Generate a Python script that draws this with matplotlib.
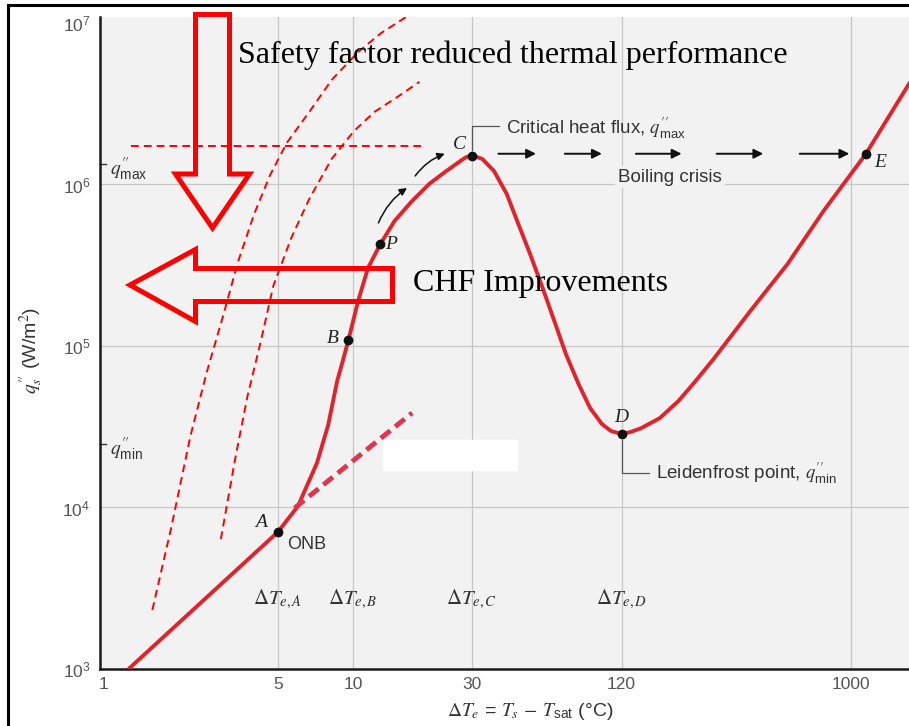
import matplotlib
matplotlib.use("Agg")
import matplotlib.pyplot as plt
from matplotlib.patches import Polygon, Rectangle
from matplotlib.lines import Line2D

plt.rcParams['font.family'] = 'Liberation Sans'
plt.rcParams['mathtext.fontset'] = 'stix'

# boiling curve (excess temperature in C, heat flux in W/m2)
dT = [1.257, 5.0, 6.02, 7.18, 7.96, 8.65, 9.11, 9.6, 10.5, 11.5, 12.9, 14.7, 17.3,
      20.3, 23.7, 27.8, 28.6, 30.0, 31.0, 33.1, 36.9, 41.5, 46.2, 51.5, 57.8, 64.4,
      71.7, 80.6, 89.7, 100, 108.6, 120, 130, 144, 171, 203, 238, 283, 395, 557,
      777, 1150, 2000]
q = [1.0e3, 7.05e3, 1.02e4, 1.89e4, 3.24e4, 6.07e4, 8.07e4, 1.09e5, 1.90e5, 3.04e5,
     4.28e5, 5.94e5, 7.91e5, 1.01e6, 1.21e6, 1.44e6, 1.48e6, 1.50e6, 1.49e6, 1.44e6,
     1.21e6, 8.73e5, 5.69e5, 3.71e5, 2.29e5, 1.43e5, 8.92e4, 5.82e4, 4.13e4, 3.29e4,
     2.98e4, 2.85e4, 2.93e4, 3.10e4, 3.58e4, 4.56e4, 6.07e4, 8.43e4, 1.65e5, 3.22e5,
     6.86e5, 1.55e6, 6.2e6]

# marked points
pt_names = ['A', 'B', 'P', 'C', 'D', 'E']
pt_dT = [5.0, 9.6, 12.9, 30.0, 120, 1150]
pt_q = [7.05e3, 1.09e5, 4.28e5, 1.50e6, 2.85e4, 1.55e6]

# natural convection extension (thick dashed)
nc_dT = [5.84, 17.3]
nc_q = [9.93e3, 3.85e4]

# two shifted curves (thin dashed)
sh1_dT = [1.566, 1.867, 2.227, 2.585, 3.003, 3.456, 4.014, 4.66, 5.43, 6.68, 8.22, 10.5, 13.0, 17.3]
sh1_q = [2.32e3, 7.57e3, 2.77e4, 6.81e4, 1.51e5, 3.31e5, 6.56e5, 1.15e6, 1.81e6, 2.81e6,
         4.44e6, 6.61e6, 8.67e6, 1.15e7]
sh2_dT = [2.951, 3.366, 3.774, 4.27, 4.79, 5.66, 6.68, 8.22, 10.1, 12.2, 15.3, 18.5]
sh2_q = [6.38e3, 1.99e4, 4.89e4, 1.07e5, 2.35e5, 4.67e5, 8.13e5, 1.44e6, 2.14e6, 2.81e6,
         3.53e6, 4.32e6]

# reduced q''max line
qline_dT = [1.28, 18.7]
qline_q = 1.73e6

q_max = 1.34e6
q_min = 2.47e4

# boiling crisis arrows
crisis_start = [38.4, 71.0, 137, 289, 623]
crisis_end = [54.4, 100, 209, 445, 986]
crisis_q = 1.55e6

xticks = [1, 5, 10, 30, 120, 1000]
xtick_labels = ['1', '5', '10', '30', '120', '1000']
yticks = [1e3, 1e4, 1e5, 1e6, 1e7]

red = '#e2232b'
W, H = 909, 726
QMAX = r"$q^{\prime\prime}_{\mathregular{max}}$"
QMIN = r"$q^{\prime\prime}_{\mathregular{min}}$"


def fpx(x, y):
    return (x / W, 1 - y / H)


fig = plt.figure(figsize=(W / 100, H / 100), dpi=100)
ax = fig.add_axes([100 / W, 57 / H, 809 / W, 652 / H])
ax.set_facecolor('#f2f2f2')
ax.set_xscale('log')
ax.set_yscale('log')
ax.set_xlim(0.965, 1712)
ax.set_ylim(1e3, 10 ** 7.037)

ax.set_xticks(xticks)
ax.set_xticklabels(xtick_labels)
ax.set_yticks(yticks)
ax.minorticks_off()
ax.tick_params(axis='both', length=0, labelcolor='#555555', labelsize=12.5)
ax.tick_params(axis='x', pad=6)
ax.tick_params(axis='y', pad=7)
for s in ['top', 'right']:
    ax.spines[s].set_visible(False)
for s in ['left', 'bottom']:
    ax.spines[s].set_linewidth(1.8)
    ax.spines[s].set_color('#1a1a1a')

for v in xticks[1:]:
    ax.axvline(v, color='#c6c6c6', lw=0.9, zorder=0.5)
for v in yticks[1:-1]:
    ax.axhline(v, color='#c6c6c6', lw=0.9, zorder=0.5)

# erased patch in the scan
ax.add_patch(Rectangle((0.350, 0.305), 0.165, 0.046, transform=ax.transAxes,
                       color='white', zorder=0.6))

ax.plot(dT, q, color=red, lw=2.8, zorder=3, solid_capstyle='butt')
ax.plot(nc_dT, nc_q, color='#e0344f', lw=3.5, dashes=(2.5, 1.3), zorder=3)
ax.plot(sh1_dT, sh1_q, color='#ff0000', lw=1.4, dashes=(4, 2.6), zorder=3)
ax.plot(sh2_dT, sh2_q, color='#ff0000', lw=1.4, dashes=(4, 2.6), zorder=3)
ax.plot(qline_dT, [qline_q, qline_q], color='#ff0000', lw=1.4, dashes=(4, 2.6), zorder=3)
ax.plot(pt_dT, pt_q, 'o', color='#111111', ms=6, zorder=4)

# point letters
offsets = {'A': (-12, 7), 'B': (-11, 1), 'P': (8, 0), 'C': (-9, 8), 'D': (0, 12), 'E': (10, -6)}
for n, x, y in zip(pt_names, pt_dT, pt_q):
    ax.annotate(n, (x, y), xytext=offsets[n], textcoords='offset points', ha='center',
                va='center', family='Liberation Serif', style='italic', size=14,
                color='#222222', zorder=5)
ax.annotate('ONB', (pt_dT[0], pt_q[0]), xytext=(7, -9), textcoords='offset points',
            ha='left', va='center', size=13, color='#333333')

# delta T labels
dt_y = 2.7e3
for x, s in zip([5.0, 10.0, 30.0, 120.0], ['A', 'B', 'C', 'D']):
    ax.text(x, dt_y, r'$\Delta T_{e,%s}$' % s, ha='center', va='center', size=15,
            color='#333333')

# side labels for q''max and q''min
ytr = ax.get_yaxis_transform()
for v, lab in [(q_max, QMAX), (q_min, QMIN)]:
    ax.plot([0, 0.008], [v, v], color='#333333', lw=1, transform=ytr, clip_on=False)
    ax.text(0.012, v * 0.93, lab, transform=ytr, ha='left', va='center', size=14,
            color='#333333')

ax.annotate("Critical heat flux, " + QMAX, (30.0, 1.5e6), xytext=(25, 20),
            textcoords='offset points', ha='left', va='center', size=13.5, color='#333333',
            arrowprops=dict(arrowstyle='-', color='#555555', lw=0.9, relpos=(0, 0.6),
                            connectionstyle='angle,angleA=0,angleB=90,rad=0',
                            shrinkA=3, shrinkB=4))
ax.annotate("Leidenfrost point, " + QMIN, (120, 2.85e4), xytext=(25, -28),
            textcoords='offset points', ha='left', va='center', size=13.5, color='#333333',
            arrowprops=dict(arrowstyle='-', color='#555555', lw=0.9, relpos=(0, 0.5),
                            connectionstyle='angle,angleA=0,angleB=90,rad=0',
                            shrinkA=3, shrinkB=4))
ax.text(188, 1.11e6, 'Boiling crisis', ha='center', va='center', size=13.5, color='#333333',
        bbox=dict(boxstyle='square,pad=0.15', fc='#f2f2f2', ec='none'))

for x0, x1 in zip(crisis_start, crisis_end):
    ax.annotate('', (x1, crisis_q), xytext=(x0, crisis_q),
                arrowprops=dict(arrowstyle='-|>', color='#111111', lw=1.4,
                                mutation_scale=14, shrinkA=0, shrinkB=0))

for (x0, y0), (x1, y1) in [((12.67, 5.78e5), (16.5, 9.51e5)), ((17.8, 1.13e6), (23.4, 1.55e6))]:
    ax.annotate('', (x1, y1), xytext=(x0, y0),
                arrowprops=dict(arrowstyle='-|>', color='#111111', lw=1.1, mutation_scale=11,
                                connectionstyle='arc3,rad=-0.15', shrinkA=0, shrinkB=0))

ax.set_xlabel(r'$\Delta T_e$ = $T_s$ $-$ $T_{\mathregular{sat}}$ (°C)', size=14, color='#333333')
ax.xaxis.set_label_coords((530 - 100) / 809, -(701 - 669) / 652)
ax.set_ylabel(r"$q^{\prime\prime}_s$ (W/m$^2$)", size=14, color='#333333')
ax.yaxis.set_label_coords(-(100 - 45) / 809, (669 - 350) / 652)

# hollow red arrows drawn over the chart
down = [(195.5, 14.5), (229.5, 14.5), (229.5, 174), (249.5, 174), (212.5, 228),
        (175.5, 174), (195.5, 174)]
left = [(392.5, 268.5), (195.5, 268.5), (195.5, 249.5), (130, 285), (195.5, 321.5),
        (195.5, 301.5), (392.5, 301.5)]
for verts in [down, left]:
    fig.add_artist(Polygon([fpx(*v) for v in verts], closed=True, fill=False,
                           edgecolor='#ff0000', lw=3.6, joinstyle='miter',
                           transform=fig.transFigure, zorder=10))

fig.text(*fpx(238, 55), 'Safety factor reduced thermal performance', family='Liberation Serif',
         size=23, ha='left', va='center', color='black')
fig.text(*fpx(413, 283), 'CHF Improvements', family='Liberation Serif', size=23,
         ha='left', va='center', color='black')

# outer frame of the slide
fig.add_artist(Line2D([8 / W, 8 / W], [0, 1 - 5 / H], color='black', lw=2.2))
fig.add_artist(Line2D([8 / W, 1], [1 - 5 / H, 1 - 5 / H], color='black', lw=2.2))

fig.savefig('out.png', dpi=100)
